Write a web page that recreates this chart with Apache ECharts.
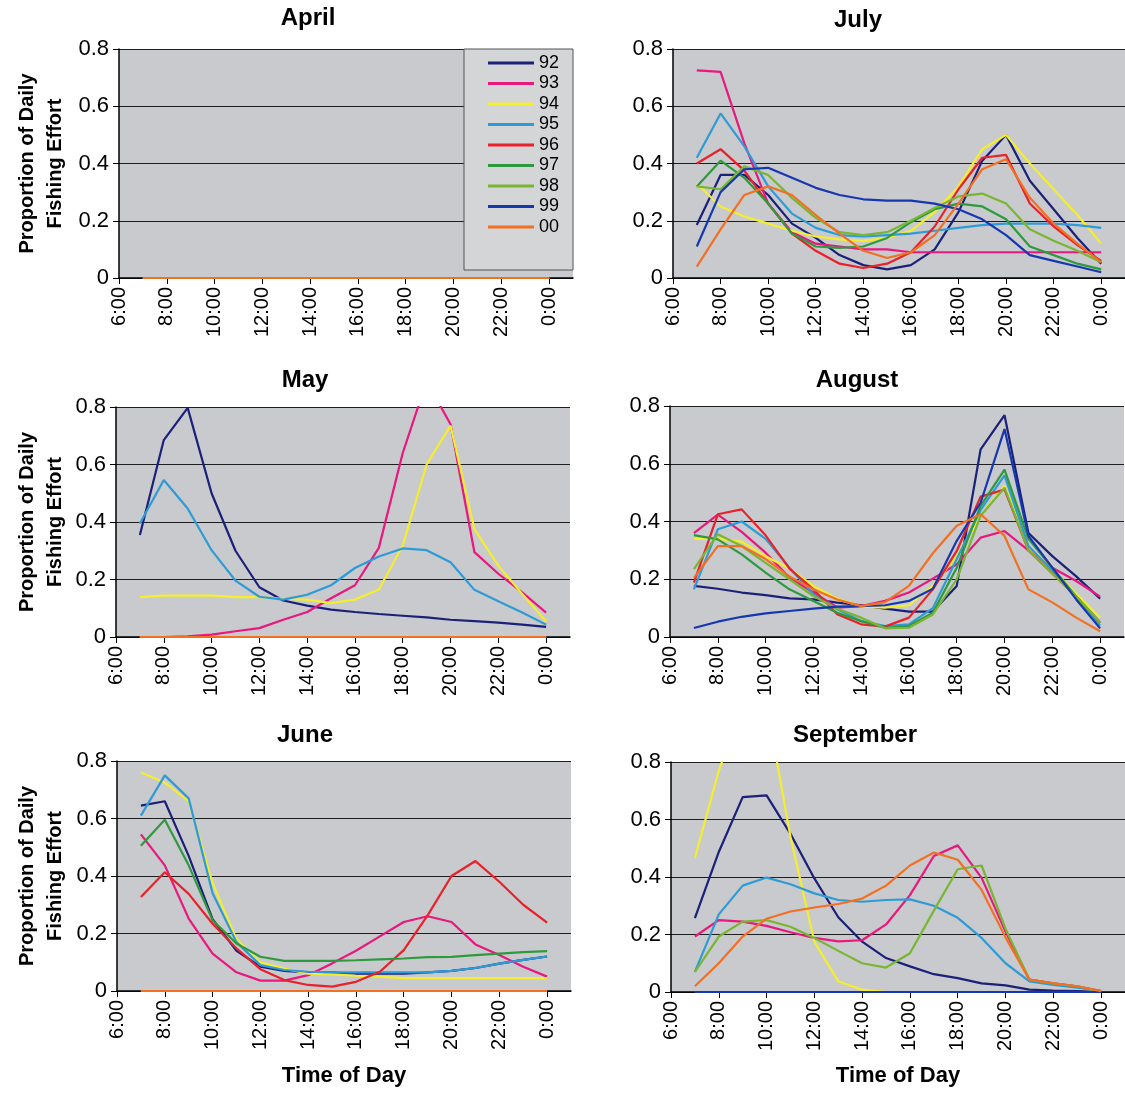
<!DOCTYPE html>
<html>
<head>
<meta charset="utf-8">
<title>Proportion of Daily Fishing Effort</title>
<script src="https://cdn.jsdelivr.net/npm/echarts@6.0.0/dist/echarts.min.js"></script>
<style>
  html, body { margin: 0; padding: 0; background: #fff; }
  #chart { width: 1125px; height: 1094px; }
</style>
</head>
<body>
<div id="chart"></div>
<script>
// hourly points, 7:00 .. 0:00 (24)
const hours = [7, 8, 9, 10, 11, 12, 13, 14, 15, 16, 17, 18, 19, 20, 21, 22, 23, 24];
const tickHours = [6, 8, 10, 12, 14, 16, 18, 20, 22, 24];
const years = ['92', '93', '94', '95', '96', '97', '98', '99', '00'];
const yearColors = ['#1b2078', '#e8187f', '#f4ee2e', '#2f9bd6', '#e8212b', '#2f9a3d', '#7ab533', '#1737b0', '#f27022'];

const zeros = [0, 0, 0, 0, 0, 0, 0, 0, 0, 0, 0, 0, 0, 0, 0, 0, 0, 0];

// rows in the order of years: 92 .. 00
const april = [zeros, zeros, zeros, zeros, zeros, zeros, zeros, zeros, zeros];

const may = [
  [0.355, 0.685, 0.797, 0.50, 0.30, 0.173, 0.127, 0.109, 0.095, 0.087, 0.08, 0.074, 0.068, 0.06, 0.055, 0.05, 0.043, 0.035],
  [0, 0, 0.002, 0.008, 0.02, 0.031, 0.06, 0.087, 0.135, 0.18, 0.31, 0.64, 0.89, 0.74, 0.295, 0.22, 0.155, 0.085],
  [0.139, 0.144, 0.144, 0.144, 0.139, 0.139, 0.133, 0.13, 0.118, 0.13, 0.165, 0.318, 0.60, 0.735, 0.375, 0.248, 0.15, 0.054],
  [0.395, 0.546, 0.447, 0.302, 0.196, 0.14, 0.13, 0.147, 0.18, 0.24, 0.28, 0.308, 0.302, 0.26, 0.164, 0.124, 0.085, 0.043],
  zeros, zeros, zeros, zeros, zeros
];

const june = [
  [0.645, 0.66, 0.47, 0.25, 0.14, 0.085, 0.07, 0.065, 0.065, 0.06, 0.06, 0.06, 0.065, 0.07, 0.08, 0.095, 0.108, 0.12],
  [0.545, 0.437, 0.252, 0.13, 0.065, 0.036, 0.036, 0.055, 0.096, 0.14, 0.19, 0.24, 0.26, 0.24, 0.162, 0.125, 0.084, 0.05],
  [0.76, 0.725, 0.66, 0.375, 0.18, 0.10, 0.078, 0.06, 0.058, 0.053, 0.05, 0.045, 0.045, 0.045, 0.045, 0.045, 0.045, 0.045],
  [0.61, 0.75, 0.67, 0.34, 0.17, 0.09, 0.073, 0.067, 0.065, 0.065, 0.065, 0.065, 0.065, 0.07, 0.08, 0.095, 0.108, 0.12],
  [0.327, 0.413, 0.338, 0.234, 0.148, 0.076, 0.038, 0.021, 0.015, 0.032, 0.067, 0.142, 0.263, 0.40, 0.452, 0.38, 0.30, 0.238],
  [0.505, 0.596, 0.437, 0.246, 0.165, 0.119, 0.105, 0.105, 0.105, 0.107, 0.11, 0.113, 0.118, 0.119, 0.125, 0.13, 0.135, 0.139],
  zeros, zeros, zeros
];

const july = [
  [0.185, 0.36, 0.36, 0.29, 0.19, 0.14, 0.08, 0.045, 0.03, 0.045, 0.10, 0.23, 0.41, 0.50, 0.34, 0.24, 0.14, 0.05],
  [0.725, 0.72, 0.47, 0.26, 0.16, 0.12, 0.11, 0.10, 0.10, 0.09, 0.09, 0.09, 0.09, 0.09, 0.09, 0.09, 0.09, 0.09],
  [0.33, 0.25, 0.215, 0.19, 0.165, 0.145, 0.135, 0.13, 0.14, 0.165, 0.23, 0.32, 0.45, 0.50, 0.40, 0.31, 0.22, 0.12],
  [0.42, 0.575, 0.46, 0.32, 0.225, 0.175, 0.15, 0.145, 0.15, 0.155, 0.165, 0.175, 0.185, 0.19, 0.19, 0.19, 0.185, 0.175],
  [0.40, 0.45, 0.375, 0.26, 0.155, 0.095, 0.05, 0.035, 0.05, 0.09, 0.18, 0.31, 0.42, 0.43, 0.26, 0.18, 0.115, 0.06],
  [0.32, 0.41, 0.35, 0.26, 0.155, 0.11, 0.105, 0.11, 0.14, 0.195, 0.24, 0.26, 0.25, 0.205, 0.11, 0.08, 0.05, 0.03],
  [0.32, 0.31, 0.39, 0.36, 0.28, 0.21, 0.16, 0.15, 0.16, 0.20, 0.245, 0.285, 0.295, 0.26, 0.17, 0.13, 0.095, 0.055],
  [0.11, 0.30, 0.38, 0.385, 0.35, 0.315, 0.29, 0.275, 0.27, 0.27, 0.26, 0.24, 0.205, 0.15, 0.08, 0.06, 0.04, 0.02],
  [0.04, 0.17, 0.29, 0.32, 0.29, 0.22, 0.155, 0.095, 0.07, 0.09, 0.15, 0.26, 0.38, 0.415, 0.28, 0.19, 0.12, 0.055]
];

const august = [
  [0.177, 0.167, 0.154, 0.145, 0.134, 0.13, 0.119, 0.11, 0.098, 0.088, 0.088, 0.177, 0.65, 0.768, 0.36, 0.28, 0.21, 0.133],
  [0.36, 0.424, 0.364, 0.292, 0.206, 0.154, 0.102, 0.107, 0.125, 0.154, 0.202, 0.252, 0.344, 0.367, 0.30, 0.24, 0.194, 0.14],
  [0.34, 0.34, 0.33, 0.28, 0.237, 0.177, 0.133, 0.105, 0.102, 0.11, 0.177, 0.28, 0.42, 0.523, 0.31, 0.235, 0.15, 0.067],
  [0.165, 0.373, 0.40, 0.34, 0.24, 0.148, 0.096, 0.055, 0.038, 0.044, 0.10, 0.27, 0.44, 0.56, 0.315, 0.23, 0.14, 0.04],
  [0.188, 0.425, 0.442, 0.352, 0.237, 0.165, 0.079, 0.044, 0.036, 0.067, 0.165, 0.298, 0.486, 0.511, 0.30, 0.22, 0.14, 0.05],
  [0.353, 0.338, 0.286, 0.223, 0.165, 0.125, 0.084, 0.055, 0.032, 0.038, 0.084, 0.24, 0.454, 0.58, 0.34, 0.24, 0.14, 0.05],
  [0.235, 0.356, 0.315, 0.257, 0.20, 0.142, 0.098, 0.067, 0.03, 0.032, 0.078, 0.20, 0.42, 0.517, 0.30, 0.22, 0.14, 0.05],
  [0.031, 0.053, 0.07, 0.082, 0.09, 0.098, 0.105, 0.107, 0.11, 0.125, 0.167, 0.333, 0.465, 0.72, 0.35, 0.24, 0.13, 0.03],
  [0.205, 0.315, 0.315, 0.27, 0.21, 0.165, 0.13, 0.107, 0.121, 0.177, 0.29, 0.385, 0.425, 0.35, 0.165, 0.12, 0.067, 0.02]
];

const september = [
  [0.257, 0.487, 0.678, 0.684, 0.55, 0.395, 0.26, 0.175, 0.118, 0.089, 0.062, 0.048, 0.03, 0.023, 0.008, 0.005, 0.003, 0],
  [0.193, 0.25, 0.245, 0.23, 0.208, 0.188, 0.176, 0.18, 0.235, 0.337, 0.473, 0.51, 0.397, 0.21, 0.043, 0.03, 0.02, 0.003],
  [0.465, 0.77, 1.0, 1.0, 0.54, 0.175, 0.037, 0.008, 0, 0, 0, 0, 0, 0, 0, 0, 0, 0],
  [0.07, 0.27, 0.37, 0.398, 0.375, 0.343, 0.32, 0.314, 0.32, 0.322, 0.30, 0.258, 0.188, 0.10, 0.037, 0.025, 0.015, 0.003],
  zeros,
  zeros,
  [0.07, 0.193, 0.245, 0.25, 0.227, 0.188, 0.143, 0.10, 0.085, 0.135, 0.283, 0.427, 0.44, 0.22, 0.043, 0.03, 0.02, 0],
  zeros,
  [0.02, 0.10, 0.193, 0.255, 0.28, 0.294, 0.306, 0.325, 0.37, 0.44, 0.485, 0.46, 0.355, 0.19, 0.043, 0.03, 0.02, 0.003]
];

const FONT = '"Liberation Sans", Arial, Helvetica, sans-serif';

const panels = [
  { name: 'April', rows: april, left: 119, top: 49, height: 229, tx: 308, ty: 18, yName: true },
  { name: 'July', rows: july, left: 673, top: 49, height: 229, tx: 858, ty: 20 },
  { name: 'May', rows: may, left: 116, top: 407, height: 230, tx: 305, ty: 380, yName: true },
  { name: 'August', rows: august, left: 670, top: 406, height: 231, tx: 857, ty: 380 },
  { name: 'June', rows: june, left: 117, top: 761, height: 230, tx: 305, ty: 735, yName: true, xName: true },
  { name: 'September', rows: september, left: 671, top: 762, height: 230, tx: 855, ty: 735, xName: true }
];

const grids = [], xAxes = [], yAxes = [], series = [], texts = [];

panels.forEach((p, i) => {
  grids.push({
    left: p.left, top: p.top, width: 454, height: p.height,
    show: true, backgroundColor: '#c8cacd', borderWidth: 0
  });
  xAxes.push({
    type: 'value', gridIndex: i, min: 6, max: 25, interval: 2,
    axisLine: { lineStyle: { color: '#000', width: 1.5 } },
    axisTick: { show: true, length: 6, lineStyle: { color: '#000' }, customValues: tickHours },
    splitLine: { show: false },
    axisLabel: {
      rotate: 90, margin: 9, color: '#000', fontSize: 20, fontFamily: FONT,
      customValues: tickHours,
      formatter: v => (v % 24) + ':00'
    }
  });
  yAxes.push({
    type: 'value', gridIndex: i, min: 0, max: 0.8, interval: 0.2,
    axisLine: { show: true, lineStyle: { color: '#000', width: 1.5 } },
    axisTick: { show: true, length: 6, lineStyle: { color: '#000' } },
    splitLine: { show: true, lineStyle: { color: '#1e1e1e', width: 1 } },
    axisLabel: {
      margin: 10, color: '#000', fontSize: 22, fontFamily: FONT,
      formatter: v => (v === 0 ? '0' : v.toFixed(1))
    }
  });
  years.forEach((y, j) => {
    series.push({
      type: 'line', name: y, xAxisIndex: i, yAxisIndex: i,
      data: hours.map((h, k) => [h, p.rows[j][k]]),
      symbol: 'none', clip: true, silent: true,
      lineStyle: { width: 2.2, color: yearColors[j] },
      itemStyle: { color: yearColors[j] }
    });
  });
  texts.push({
    type: 'text', x: p.tx, y: p.ty,
    style: { text: p.name, font: 'bold 24px ' + FONT, fill: '#000', align: 'center', verticalAlign: 'middle' }
  });
  if (p.yName) {
    texts.push({
      type: 'text', x: 41, y: p.top + p.height / 2, rotation: Math.PI / 2,
      style: {
        text: 'Proportion of Daily\nFishing Effort', font: 'bold 20px ' + FONT, lineHeight: 28,
        fill: '#000', align: 'center', verticalAlign: 'middle'
      }
    });
  }
  if (p.xName) {
    texts.push({
      type: 'text', x: p.left + 227, y: 1076,
      style: { text: 'Time of Day', font: 'bold 22px ' + FONT, fill: '#000', align: 'center', verticalAlign: 'middle' }
    });
  }
});

const chart = echarts.init(document.getElementById('chart'));
chart.setOption({
  backgroundColor: '#fff',
  animation: false,
  legend: {
    data: years, orient: 'vertical', left: 464, top: 49,
    icon: 'rect', itemWidth: 46, itemHeight: 3, itemGap: 2.5,
    padding: [5, 14, 34, 24],
    backgroundColor: '#d3d5d7', borderColor: '#555', borderWidth: 1,
    textStyle: { fontSize: 18, lineHeight: 17, color: '#000', fontFamily: FONT },
    selectedMode: false
  },
  grid: grids,
  xAxis: xAxes,
  yAxis: yAxes,
  series: series,
  graphic: texts
});
</script>
</body>
</html>
